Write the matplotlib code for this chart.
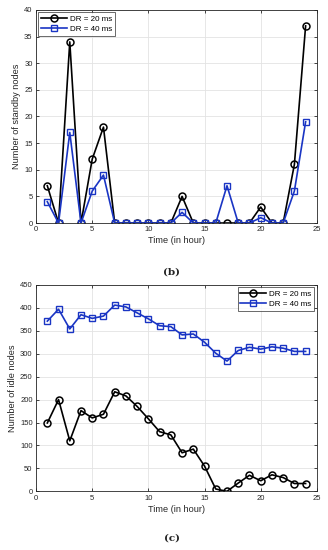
import numpy as np
import matplotlib.pyplot as plt

hours = np.arange(1, 25)

# (b) standby nodes
standby_dr20 = [7, 0, 34, 0, 12, 18, 0, 0, 0, 0, 0, 0, 5, 0, 0, 0, 0, 0, 0, 3, 0, 0, 11, 37]
standby_dr40 = [4, 0, 17, 0, 6, 9, 0, 0, 0, 0, 0, 0, 2, 0, 0, 0, 7, 0, 0, 1, 0, 0, 6, 19]

# (c) idle nodes
idle_dr20 = [149, 200, 110, 176, 160, 168, 217, 208, 185, 158, 130, 123, 84, 92, 55, 5, 0, 18, 35, 23, 36, 30, 17, 17]
idle_dr40 = [371, 397, 354, 385, 377, 382, 406, 402, 389, 376, 361, 359, 341, 343, 325, 301, 284, 307, 314, 310, 315, 312, 305, 305]

labels = ['DR = 20 ms', 'DR = 40 ms']

plt.rcParams['font.family'] = ['Liberation Sans', 'DejaVu Sans']
blue = '#1a35c4'
axcol = '#262626'

fig = plt.figure(figsize=(3.28, 5.5), dpi=100)
ax1 = fig.add_axes([0.110, 0.5945, 0.856, 0.3875])
ax2 = fig.add_axes([0.110, 0.1067, 0.856, 0.3753])


def style(ax):
    ax.set_xlim(0, 25)
    ax.set_xticks([0, 5, 10, 15, 20, 25])
    ax.grid(True, color='#e3e3e3', linewidth=0.6)
    ax.set_axisbelow(True)
    ax.tick_params(direction='in', length=2.5, width=0.6, labelsize=5.5,
                   colors=axcol, top=True, right=True, pad=2.5)
    for s in ax.spines.values():
        s.set_color(axcol)
        s.set_linewidth(0.6)
    ax.set_xlabel('Time (in hour)', fontsize=6.6, color=axcol, labelpad=2)


def add_legend(ax, loc):
    leg = ax.legend(loc=loc, fontsize=5.8, frameon=True, fancybox=False,
                    edgecolor=axcol, borderpad=0.35, handlelength=3.2,
                    handletextpad=0.4, labelspacing=0.3, borderaxespad=0.3)
    leg.get_frame().set_linewidth(0.6)


ax1.plot(hours, standby_dr20, color='black', lw=1.2, marker='o', ms=5,
         mfc='none', mec='black', mew=1.1, label=labels[0])
ax1.plot(hours, standby_dr40, color=blue, lw=1.2, marker='s', ms=4,
         mfc='none', mec=blue, mew=1.0, label=labels[1])
style(ax1)
ax1.set_ylim(0, 40)
ax1.set_yticks(np.arange(0, 41, 5))
ax1.set_ylabel('Number of standby nodes', fontsize=6.6, color=axcol, labelpad=2)
add_legend(ax1, 'upper left')

ax2.plot(hours, idle_dr20, color='black', lw=1.2, marker='o', ms=5,
         mfc='none', mec='black', mew=1.1, label=labels[0])
ax2.plot(hours, idle_dr40, color=blue, lw=1.2, marker='s', ms=4,
         mfc='none', mec=blue, mew=1.0, label=labels[1])
style(ax2)
ax2.set_ylim(0, 450)
ax2.set_yticks(np.arange(0, 451, 50))
ax2.set_ylabel('Number of idle nodes', fontsize=6.6, color=axcol, labelpad=2)
add_legend(ax2, 'upper right')

fig.text(0.524, 0.5055, '(b)', ha='center', va='center', fontsize=7.5,
         family='DejaVu Serif', weight='bold', color='#222222')
fig.text(0.524, 0.022, '(c)', ha='center', va='center', fontsize=7.5,
         family='DejaVu Serif', weight='bold', color='#222222')

fig.savefig('out.png', dpi=100)
